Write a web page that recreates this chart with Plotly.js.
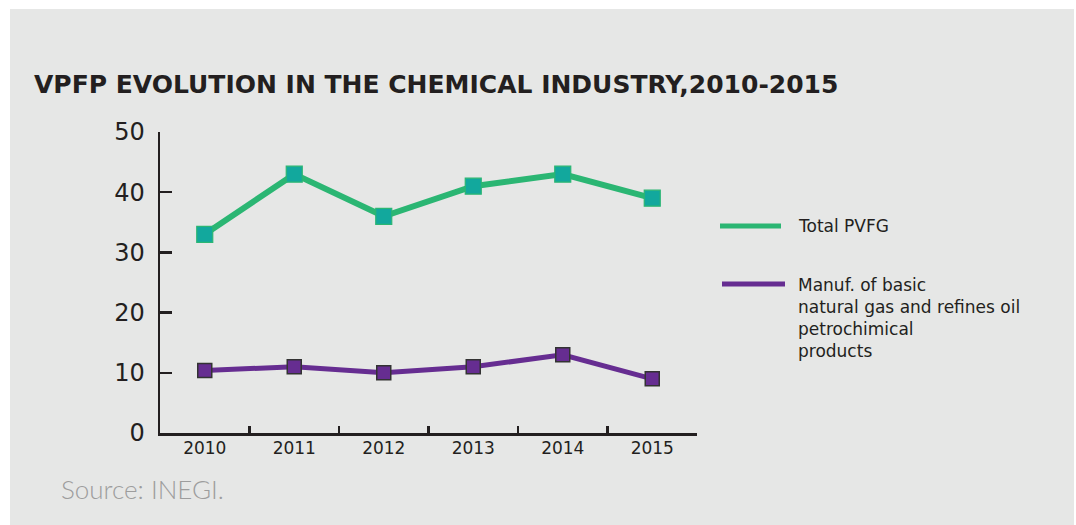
<!DOCTYPE html>
<html>
<head>
<meta charset="utf-8">
<script src="https://cdn.plot.ly/plotly-3.0.1.min.js"></script>
<style>
  html, body { margin: 0; padding: 0; background: #ffffff; }
  #chart { position: absolute; left: 10px; top: 9px; width: 1064px; height: 516px; }
</style>
</head>
<body>
<div id="chart"></div>
<script>
// ---- data ----
const years = ['2010', '2011', '2012', '2013', '2014', '2015'];
const totalPVFG = [33, 43, 36, 41, 43, 39];
const manufBasic = [10.4, 11, 10, 11, 13, 9];
const seriesNames = ['Total PVFG', 'Manuf. of basic<br>natural gas and refines oil<br>petrochimical<br>products'];
const yTicks = [0, 10, 20, 30, 40, 50];
const titleText = 'VPFP EVOLUTION IN THE CHEMICAL INDUSTRY,2010-2015';
const sourceText = 'Source: INEGI.';

// ---- styling ----
const W = 1064, H = 516;
const M = { l: 150, r: 377, t: 123, b: 92 };
const PW = W - M.l - M.r, PH = H - M.t - M.b;
const px2x = px => (px - M.l) / PW;
const py2y = py => (H - M.b - py) / PH;

const green = '#2bb673', teal = '#12a89d', purple = '#662d91', ink = '#231f20';
const font = 'DejaVu Sans, Noto Sans, sans-serif';

const traces = [
  { x: years, y: totalPVFG, name: seriesNames[0], type: 'scatter', mode: 'lines+markers',
    line: { color: green, width: 6 },
    marker: { symbol: 'square', size: 16, color: teal, line: { color: green, width: 1.2 } },
    showlegend: false, cliponaxis: false, hoverinfo: 'x+y' },
  { x: years, y: manufBasic, name: seriesNames[1], type: 'scatter', mode: 'lines+markers',
    line: { color: purple, width: 5 },
    marker: { symbol: 'square', size: 14, color: purple, line: { color: '#333333', width: 1.5 } },
    showlegend: false, cliponaxis: false, hoverinfo: 'x+y' }
];

// legend drawn as shapes + annotations
const legendItems = [
  { color: green, x0: 710, x1: 771, y: 217 },
  { color: purple, x0: 712, x1: 775, y: 275 }
];
const shapes = legendItems.map(it => ({
  type: 'line', xref: 'paper', yref: 'paper',
  x0: px2x(it.x0), x1: px2x(it.x1), y0: py2y(it.y), y1: py2y(it.y),
  line: { color: it.color, width: 5, cap: 'round' }
}));
const annotations = [
  { text: seriesNames[0], xref: 'paper', yref: 'paper', x: px2x(786), y: py2y(217),
    xanchor: 'left', yanchor: 'middle', showarrow: false, align: 'left',
    font: { family: font, size: 17, color: ink } },
  { text: seriesNames[1], xref: 'paper', yref: 'paper', x: px2x(786), y: py2y(263.5),
    xanchor: 'left', yanchor: 'top', showarrow: false, align: 'left',
    font: { family: font, size: 17, color: ink } },
  { text: sourceText, xref: 'paper', yref: 'paper', x: px2x(49), y: py2y(480),
    xanchor: 'left', yanchor: 'middle', showarrow: false,
    font: { family: 'Lato, sans-serif', size: 26, color: '#9d9d9d', weight: 300 } }
];

const layout = {
  width: W, height: H,
  margin: M,
  paper_bgcolor: '#e6e7e6', plot_bgcolor: 'rgba(0,0,0,0)',
  title: { text: '<b>' + titleText + '</b>', x: 24 / W, xref: 'container', xanchor: 'left',
    y: 1 - 75 / H, yanchor: 'middle', yref: 'container',
    font: { family: 'DejaVu Sans, sans-serif', size: 25, color: ink, weight: 700 } },
  xaxis: { type: 'category', range: [-0.5, 5.5], showgrid: false, zeroline: false,
    showline: true, linecolor: ink, linewidth: 2.5,
    ticks: 'inside', tickson: 'boundaries', ticklen: 7, tickwidth: 2.5, tickcolor: ink,
    ticklabelstandoff: -2,
    tickfont: { family: font, size: 17, color: ink }, fixedrange: true },
  yaxis: { range: [0, 50], tickvals: yTicks, showgrid: false, zeroline: false,
    showline: true, linecolor: ink, linewidth: 2.5,
    ticks: 'inside', ticklen: 12, tickwidth: 2.5, tickcolor: ink,
    ticklabelstandoff: 8,
    tickfont: { family: font, size: 24, color: ink }, fixedrange: true },
  shapes: shapes,
  annotations: annotations,
  showlegend: false
};

Plotly.newPlot('chart', traces, layout, { displayModeBar: false, staticPlot: true });
</script>
</body>
</html>
